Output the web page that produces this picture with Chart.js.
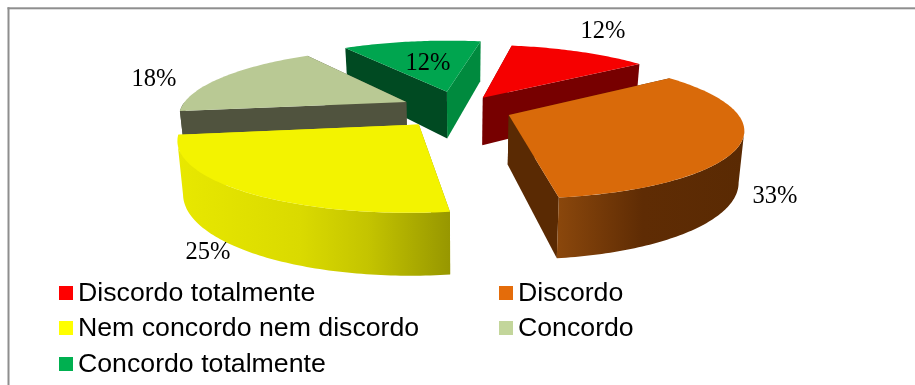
<!DOCTYPE html>
<html>
<head>
<meta charset="utf-8">
<title>Grau de concordancia</title>
<script src="https://cdn.jsdelivr.net/npm/chart.js@4"></script>
<style>
  html, body { margin: 0; padding: 0; background: #fff; }
  canvas { display: block; }
</style>
</head>
<body>
<canvas id="pieChart" width="915" height="385"></canvas>
<script>
const categories = ['Discordo totalmente', 'Discordo', 'Nem concordo nem discordo', 'Concordo', 'Concordo totalmente'];
const shares = [12, 33, 25, 18, 12];

const topColors = ['#f60000', '#d96a0a', '#f3f300', '#b9c994', '#00a54f'];
const legendColors = ['#ff0000', '#e46c0a', '#ffff00', '#c3d69b', '#00b050'];
const startFaceColors = ['#770000', '#5a2a03', '#979700', '#50533e', '#004a22'];
const endFaceColors = ['#770000', '#5a2a03', '#e8e800', '#50533e', '#008a3e'];
const wallStops = [
  [[0, '#770000'], [1, '#770000']],
  [[0, '#8a470c'], [0.45, '#5f2c04'], [1, '#5a2a03']],
  [[0, '#e8e800'], [0.45, '#dada00'], [0.7, '#c4c400'], [1, '#979700']],
  [[0, '#50533e'], [1, '#50533e']],
  [[0, '#008a3e'], [1, '#008a3e']]
];
const sliceOffsets = [47, 53, 64, 59, 63];
const paintOrder = [4, 0, 3, 1, 2];

const labelSpots = [[603, 32], [775, 197], [208, 253], [154, 80], [428, 64]];
const legendSpots = [[59, 293], [499, 293], [59, 328], [499, 328], [59, 364]];

const TILT = 0.292;
const PERSPECTIVE = 0.18;
const THICKNESS = 49;
const BASE_SHRINK = 0.02;

// disk coordinates -> screen, nearer points get bigger and the base narrows a little
function project(arc, u, v, drop) {
  const w = 1 - PERSPECTIVE * v / arc.outerRadius;
  return {
    x: arc.x + (u / w) * (1 - BASE_SHRINK * drop / THICKNESS),
    y: arc.y + TILT * v / w + drop / w
  };
}

function rimPoint(arc, shift, angle) {
  return {
    u: shift.u + arc.outerRadius * Math.cos(angle),
    v: shift.v + arc.outerRadius * Math.sin(angle)
  };
}

function tracePoints(ctx, points) {
  ctx.beginPath();
  points.forEach((p, i) => {
    if (i === 0) {
      ctx.moveTo(p.x, p.y);
    } else {
      ctx.lineTo(p.x, p.y);
    }
  });
  ctx.closePath();
}

function arcSteps(from, to) {
  const count = Math.max(2, Math.ceil((to - from) / (Math.PI / 180)));
  const steps = [];

  for (let i = 0; i <= count; i++) {
    steps.push(from + (to - from) * i / count);
  }

  return steps;
}

// keep the wall between the silhouette points of the projected rim
function visibleRim(arc, rim) {
  const xs = rim.map((p) => project(arc, p.u, p.v, 0).x);
  const first = xs.indexOf(Math.max(...xs));
  const last = xs.indexOf(Math.min(...xs));

  return last > first ? rim.slice(first, last + 1) : rim;
}

function drawSlice(ctx, arc, index) {
  const mid = (arc.startAngle + arc.endAngle) / 2;
  const reach = arc.options.offset;
  const shift = { u: reach * Math.cos(mid), v: reach * Math.sin(mid) };

  // radial faces, the one further back goes first
  const faces = [
    { point: rimPoint(arc, shift, arc.startAngle), color: startFaceColors[index] },
    { point: rimPoint(arc, shift, arc.endAngle), color: endFaceColors[index] }
  ].sort((a, b) => a.point.v - b.point.v);

  faces.forEach((face) => {
    tracePoints(ctx, [
      project(arc, shift.u, shift.v, 0),
      project(arc, face.point.u, face.point.v, 0),
      project(arc, face.point.u, face.point.v, THICKNESS),
      project(arc, shift.u, shift.v, THICKNESS)
    ]);
    ctx.fillStyle = face.color;
    ctx.fill();
  });

  // outer wall, only the part turned towards the viewer
  const wallFrom = Math.max(arc.startAngle, 0);
  const wallTo = Math.min(arc.endAngle, Math.PI);

  if (wallTo > wallFrom) {
    const rim = visibleRim(arc, arcSteps(wallFrom, wallTo).map((a) => rimPoint(arc, shift, a)));
    const upper = rim.map((p) => project(arc, p.u, p.v, 0));
    const lower = rim.map((p) => project(arc, p.u, p.v, THICKNESS)).reverse();
    const xs = upper.map((p) => p.x);
    const gradient = ctx.createLinearGradient(Math.min(...xs), 0, Math.max(...xs), 0);

    wallStops[index].forEach(([stop, color]) => gradient.addColorStop(stop, color));
    tracePoints(ctx, upper.concat(lower));
    ctx.fillStyle = gradient;
    ctx.fill();
  }

  // top surface
  const top = arcSteps(arc.startAngle, arc.endAngle).map((a) => {
    const p = rimPoint(arc, shift, a);
    return project(arc, p.u, p.v, 0);
  });
  tracePoints(ctx, [project(arc, shift.u, shift.v, 0)].concat(top));
  ctx.fillStyle = topColors[index];
  ctx.fill();
}

const tiltedPie = {
  id: 'tiltedPie',
  beforeDraw(chart) {
    const ctx = chart.ctx;
    ctx.save();
    ctx.fillStyle = '#8e8e8e';
    ctx.fillRect(7.5, 7.3, chart.width - 7.5, 2);
    ctx.fillRect(7.5, 7.3, 2, chart.height - 7.3);
    ctx.restore();
  },
  beforeDatasetsDraw(chart) {
    const arcs = chart.getDatasetMeta(0).data;
    const ctx = chart.ctx;

    ctx.save();
    paintOrder.forEach((i) => drawSlice(ctx, arcs[i], i));

    ctx.fillStyle = '#000';
    ctx.textBaseline = 'middle';
    ctx.textAlign = 'center';
    ctx.font = '24.5px "Liberation Serif"';
    shares.forEach((share, i) => {
      ctx.fillText(share + '%', labelSpots[i][0], labelSpots[i][1]);
    });

    ctx.textAlign = 'left';
    ctx.font = '26.7px "Liberation Sans"';
    categories.forEach((name, i) => {
      const [x, y] = legendSpots[i];
      ctx.fillStyle = legendColors[i];
      ctx.fillRect(x, y - 7, 14, 14);
      ctx.fillStyle = '#000';
      ctx.fillText(name, x + 19, y + 1);
    });
    ctx.restore();

    // everything is painted above, skip the flat arcs
    return false;
  }
};

new Chart(document.getElementById('pieChart'), {
  type: 'pie',
  data: {
    labels: categories,
    datasets: [{
      data: shares,
      backgroundColor: topColors,
      offset: sliceOffsets,
      borderWidth: 0
    }]
  },
  options: {
    responsive: false,
    animation: false,
    rotation: 10,
    radius: 226,
    layout: { padding: { left: 3, bottom: 167 } },
    plugins: {
      legend: { display: false },
      tooltip: { enabled: false }
    }
  },
  plugins: [tiltedPie]
});
</script>
</body>
</html>
